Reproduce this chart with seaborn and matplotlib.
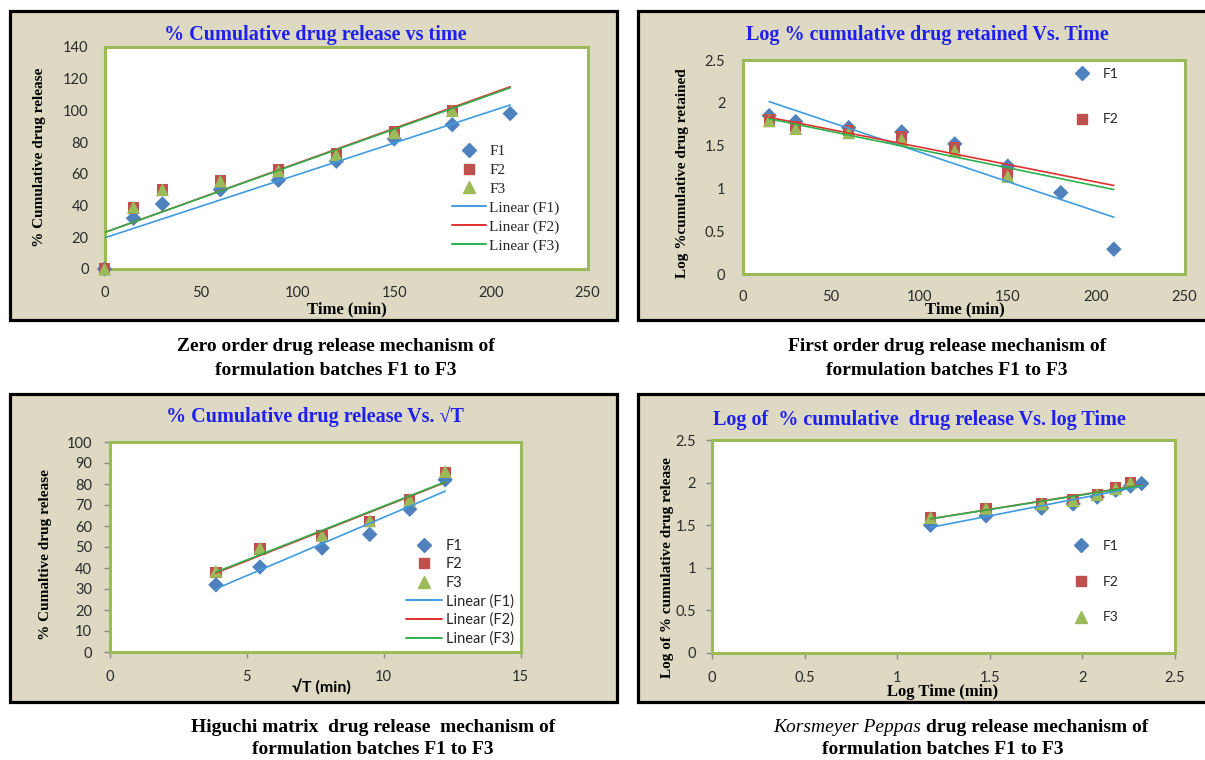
import numpy as np
import pandas as pd
import matplotlib
matplotlib.use("Agg")
import matplotlib.pyplot as plt
import seaborn as sns
from matplotlib.patches import Rectangle
from matplotlib.lines import Line2D
from matplotlib.ticker import FuncFormatter

# ---------------- data ----------------
series_names = ["F1", "F2", "F3"]

zero_time = [0, 15, 30, 60, 90, 120, 150, 180, 210]
zero_f1 = [0, 32, 41, 50, 56, 68, 82, 91, 98]
zero_f2 = [0, 38.5, 50, 56, 62.5, 73, 86.5, 100]
zero_f3 = [0, 39, 50, 55.5, 62, 72, 86, 100]

first_time = [15, 30, 60, 90, 120, 150, 180, 210]
first_f1 = [1.85, 1.78, 1.71, 1.66, 1.52, 1.26, 0.95, 0.29]
first_f2 = [1.80, 1.72, 1.68, 1.60, 1.48, 1.17]
first_f3 = [1.79, 1.70, 1.65, 1.57, 1.44, 1.14]

higuchi_sqrt_t = [3.87, 5.48, 7.75, 9.49, 10.95, 12.25]
higuchi_f1 = [32, 40.5, 49.5, 56, 68, 82]
higuchi_f2 = [38, 49, 55.5, 62, 72.5, 85.5]
higuchi_f3 = [38.5, 49.5, 55.5, 62.5, 72.5, 86]

peppas_log_t = [1.18, 1.48, 1.78, 1.95, 2.08, 2.18, 2.26, 2.32]
peppas_f1 = [1.50, 1.61, 1.70, 1.75, 1.83, 1.91, 1.96, 1.99]
peppas_f2 = [1.59, 1.70, 1.75, 1.80, 1.86, 1.94, 2.00]
peppas_f3 = [1.59, 1.70, 1.75, 1.79, 1.86, 1.93, 2.00]

titles = ["% Cumulative drug release vs time",
          "Log % cumulative drug retained Vs. Time",
          "% Cumulative drug release Vs. \u221aT",
          "Log of  % cumulative  drug release Vs. log Time"]
xlabels = ["Time (min)", "Time (min)", "\u221aT (min)", "Log Time (min)"]
ylabels = ["% Cumulative drug release", "Log %cumulative drug retained",
           "% Cumaltive drug release", "Log of % cumulative drug release"]
captions = [("Zero order drug release mechanism of", "formulation batches F1 to F3"),
            ("First order drug release mechanism of", "formulation batches F1 to F3"),
            ("Higuchi matrix  drug release  mechanism of", "formulation batches F1 to F3"),
            ("drug release mechanism of", "formulation batches F1 to F3")]
caption_italic = "Korsmeyer Peppas"

# ---------------- style ----------------
sns.set_theme(style="white")
plt.rcParams['font.family'] = ['Lato', 'DejaVu Sans']
SERIF = ['Liberation Serif', 'DejaVu Serif']
SANS = ['Lato', 'DejaVu Sans']

BEIGE = '#DDD9C3'
GREEN_BORDER = '#9BBB59'
MK_COLORS = ['#4F81BD', '#C0504D', '#9BBB59']
MARKERS = ['D', 's', '^']
MK_SIZES = [62, 66, 88]
LINE_COLORS = ['#3E9BE0', '#E0302C', '#2DB04E']
TITLE_BLUE = '#1F1FEF'
TICK_COLOR = '#2a2a2a'

W, H = 1205, 760
fig = plt.figure(figsize=(W / 100, H / 100), dpi=100)
fig.patch.set_facecolor('white')


def frame(x0, y0, x1, y1):
    fig.add_artist(Rectangle((x0 / W, 1 - y1 / H), (x1 - x0) / W, (y1 - y0) / H,
                             transform=fig.transFigure, facecolor=BEIGE,
                             edgecolor='black', lw=2.3, zorder=-1))


def make_axes(box):
    x0, y0, x1, y1 = box
    ax = fig.add_axes([x0 / W, 1 - y1 / H, (x1 - x0) / W, (y1 - y0) / H])
    ax.set_facecolor('white')
    ax.add_patch(Rectangle((0, 0), 1, 1, transform=ax.transAxes, fill=False,
                           edgecolor=GREEN_BORDER, lw=2.2, clip_on=False, zorder=1))
    return ax


def place_labels(ax, box, xl, yl, xfont, yfont, xpos, ypos, xsize=12):
    x0, y0, x1, y1 = box
    ax.set_xlabel(xl, fontsize=xsize, fontweight='bold', family=xfont, color='black')
    ax.set_ylabel(yl, fontsize=11, fontweight='bold', family=yfont, color='black')
    ax.xaxis.set_label_coords((xpos[0] - x0) / (x1 - x0), (y1 - xpos[1]) / (y1 - y0))
    ax.xaxis.label.set_va('center')
    ax.yaxis.set_label_coords((ypos[0] - x0) / (x1 - x0), (y1 - ypos[1]) / (y1 - y0))
    ax.yaxis.label.set_va('center')


def draw_series(ax, xs_list, ys_list, line_x):
    for i, (xs, ys) in enumerate(zip(xs_list, ys_list)):
        sns.scatterplot(x=xs, y=ys, ax=ax, marker=MARKERS[i], s=MK_SIZES[i],
                        color=MK_COLORS[i], edgecolor='none', linewidth=0,
                        zorder=2 + i * 0.1, clip_on=False, legend=False)
    for i, (xs, ys) in enumerate(zip(xs_list, ys_list)):
        slope, inter = np.polyfit(xs, ys, 1)
        lx = np.array([min(line_x), max(line_x)])
        fit = pd.DataFrame({"x": lx, "y": slope * lx + inter})
        sns.lineplot(data=fit, x="x", y="y", ax=ax, color=LINE_COLORS[i], lw=1.2,
                     zorder=3, legend=False)


def style_ticks(ax, xpad, ypad, with_ticks):
    for s in ax.spines.values():
        s.set_visible(False)
    if with_ticks:
        for side in ['left', 'bottom']:
            ax.spines[side].set_visible(True)
            ax.spines[side].set_color('#8a8a8a')
            ax.spines[side].set_linewidth(1.0)
            ax.spines[side].set_zorder(0.5)
        ax.tick_params(axis='both', length=4, width=1, color='#8a8a8a', direction='out',
                       bottom=True, left=True)
    else:
        ax.tick_params(axis='both', length=0)
    ax.tick_params(axis='x', pad=xpad, labelsize=10.5, labelcolor=TICK_COLOR)
    ax.tick_params(axis='y', pad=ypad, labelsize=10.5, labelcolor=TICK_COLOR)
    for lab in ax.get_xticklabels() + ax.get_yticklabels():
        lab.set_family(SANS)


gfmt = FuncFormatter(lambda v, p: f"{v:g}")

# ---------------- panel frames ----------------
frame(10, 11, 617, 320)
frame(638, 11, 1210, 320)
frame(10, 394, 617, 702)
frame(638, 394, 1210, 702)

# ---------------- panel 1: zero order ----------------
box1 = (104.5, 47, 587.5, 269)
ax1 = make_axes(box1)
draw_series(ax1, [zero_time, zero_time[:8], zero_time[:8]], [zero_f1, zero_f2, zero_f3], zero_time)
ax1.set_xlim(0, 250)
ax1.set_ylim(0, 140)
ax1.set_xticks(np.arange(0, 251, 50))
ax1.set_yticks(np.arange(0, 141, 20))
style_ticks(ax1, 12.5, 11.5, False)
place_labels(ax1, box1, xlabels[0], ylabels[0], SERIF, SERIF, (347, 309), (40, 157))
h1 = [Line2D([], [], ls='none', marker=MARKERS[i], color=MK_COLORS[i],
             markersize=[7.2, 7.8, 8.6][i]) for i in range(3)]
h1 += [Line2D([], [], color=LINE_COLORS[i], lw=1.4) for i in range(3)]
lab1 = series_names + [f"Linear ({n})" for n in series_names]
ax1.legend(h1, lab1, loc='upper left', bbox_to_anchor=(0.7195, 0.56), frameon=False,
           borderpad=0, borderaxespad=0, handlelength=2.2, handletextpad=0.25,
           labelspacing=0.33, prop={'family': SERIF, 'size': 11})

# ---------------- panel 2: first order ----------------
box2 = (742.7, 60, 1184.5, 274)
ax2 = make_axes(box2)
draw_series(ax2, [first_time, first_time[:6], first_time[:6]], [first_f1, first_f2, first_f3], first_time)
ax2.set_xlim(0, 250)
ax2.set_ylim(0, 2.5)
ax2.set_xticks(np.arange(0, 251, 50))
ax2.set_yticks(np.arange(0, 2.51, 0.5))
ax2.yaxis.set_major_formatter(gfmt)
style_ticks(ax2, 11.5, 12.5, False)
place_labels(ax2, box2, xlabels[1], ylabels[1], SERIF, SERIF, (964.6, 309), (683, 173))
h2 = [Line2D([], [], ls='none', marker=MARKERS[i], color=MK_COLORS[i],
             markersize=[7.2, 7.8][i]) for i in range(2)]
ax2.legend(h2, series_names[:2], loc='upper left', bbox_to_anchor=(0.752, 0.962), frameon=False,
           borderpad=0, borderaxespad=0, handlelength=1.0, handletextpad=1.0,
           labelspacing=2.4, prop={'family': SANS, 'size': 10})

# ---------------- panel 3: Higuchi ----------------
box3 = (110, 442, 520.5, 652)
ax3 = make_axes(box3)
draw_series(ax3, [higuchi_sqrt_t] * 3, [higuchi_f1, higuchi_f2, higuchi_f3], higuchi_sqrt_t)
ax3.set_xlim(0, 15)
ax3.set_ylim(0, 100)
ax3.set_xticks(np.arange(0, 16, 5))
ax3.set_yticks(np.arange(0, 101, 10))
style_ticks(ax3, 9, 9, True)
place_labels(ax3, box3, xlabels[2], ylabels[2], SANS, SERIF, (321, 687), (46, 555), xsize=11.5)
h3 = [Line2D([], [], ls='none', marker=MARKERS[i], color=MK_COLORS[i],
             markersize=[7.2, 7.8, 8.6][i]) for i in range(3)]
h3 += [Line2D([], [], color=LINE_COLORS[i], lw=1.4) for i in range(3)]
ax3.legend(h3, lab1, loc='upper left', bbox_to_anchor=(0.721, 0.538), frameon=False,
           borderpad=0, borderaxespad=0, handlelength=2.45, handletextpad=0.3,
           labelspacing=0.3, prop={'family': SANS, 'size': 10.5})

# ---------------- panel 4: Korsmeyer-Peppas ----------------
box4 = (712, 440, 1175, 653)
ax4 = make_axes(box4)
draw_series(ax4, [peppas_log_t, peppas_log_t[:7], peppas_log_t[:7]], [peppas_f1, peppas_f2, peppas_f3], peppas_log_t)
ax4.set_xlim(0, 2.5)
ax4.set_ylim(0, 2.5)
ax4.set_xticks(np.arange(0, 2.51, 0.5))
ax4.set_yticks(np.arange(0, 2.51, 0.5))
ax4.xaxis.set_major_formatter(gfmt)
ax4.yaxis.set_major_formatter(gfmt)
style_ticks(ax4, 9, 7.5, True)
place_labels(ax4, box4, xlabels[3], ylabels[3], SERIF, SERIF, (943, 692), (667.5, 568))
h4 = [Line2D([], [], ls='none', marker=MARKERS[i], color=MK_COLORS[i],
             markersize=[7.2, 7.8, 8.6][i]) for i in range(3)]
ax4.legend(h4, series_names, loc='upper left', bbox_to_anchor=(0.783, 0.532), frameon=False,
           borderpad=0, borderaxespad=0, handlelength=1.0, handletextpad=1.0,
           labelspacing=1.72, prop={'family': SANS, 'size': 10})

# ---------------- titles ----------------
title_pos = [(315, 35), (927, 35), (315, 417), (919, 420)]
for t, (x, y) in zip(titles, title_pos):
    fig.text(x / W, 1 - y / H, t, ha='center', va='center', color=TITLE_BLUE,
             fontsize=14.5, fontweight='bold', family=SERIF)

# ---------------- captions ----------------
cap_pos = [(336, 347, 370), (947, 347, 370), (373, 728, 750), (943, 728, 750)]
CAP_SIZE = 14
for i, ((l1, l2), (x, ya, yb)) in enumerate(zip(captions, cap_pos)):
    if i == 3:
        fig.text(921 / W, 1 - ya / H, caption_italic, ha='right', va='center',
                 fontsize=CAP_SIZE, fontstyle='italic', family=SERIF, color='black')
        fig.text(926 / W, 1 - ya / H, l1, ha='left', va='center',
                 fontsize=CAP_SIZE, fontweight='bold', family=SERIF, color='black')
    else:
        fig.text(x / W, 1 - ya / H, l1, ha='center', va='center',
                 fontsize=CAP_SIZE, fontweight='bold', family=SERIF, color='black')
    fig.text(x / W, 1 - yb / H, l2, ha='center', va='center',
             fontsize=CAP_SIZE, fontweight='bold', family=SERIF, color='black')

fig.savefig("out.png", dpi=100, facecolor='white')
